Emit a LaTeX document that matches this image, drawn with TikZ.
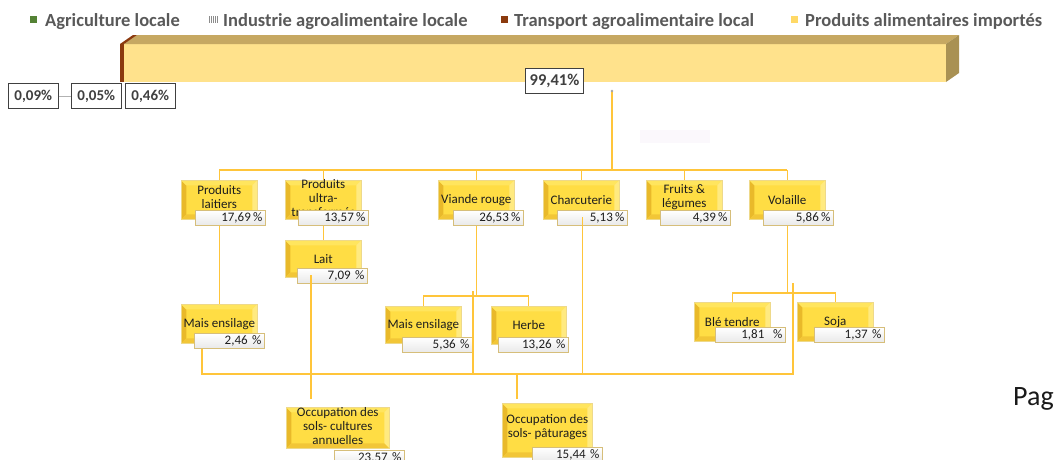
\documentclass[tikz,border=0pt]{standalone}
\usepackage{fontspec}
\setmainfont{Carlito}
\usetikzlibrary{calc}
\definecolor{connc}{HTML}{FFC53A}
\definecolor{boxin}{HTML}{FFDD44}
\definecolor{bevL}{HTML}{E9B92A}
\definecolor{bevT}{HTML}{FFE55E}
\definecolor{bevR}{HTML}{FFEA80}
\definecolor{bevB}{HTML}{F2C637}
\definecolor{boxedge}{HTML}{EED98A}
\definecolor{labedge}{HTML}{D6BE7A}
\definecolor{labbot}{HTML}{E9E9E9}
\definecolor{txtc}{HTML}{1E1E1E}
\definecolor{legtxt}{HTML}{595959}
\definecolor{valtxt}{HTML}{404040}
\definecolor{barfront}{HTML}{FFE28C}
\definecolor{bartop}{HTML}{C6A862}
\definecolor{barside}{HTML}{A99153}
\definecolor{barbrown}{HTML}{8B3A0E}
\definecolor{aggreen}{HTML}{548235}
\definecolor{legyellow}{HTML}{FFD966}
\definecolor{faintc}{HTML}{FBF8FC}
\newcommand\bxfont{\fontsize{13}{14}\selectfont}
\newcommand\lgfont{\bfseries\fontsize{18.5}{20}\selectfont}
\tikzset{
  conn/.style={draw=connc, line width=1.3pt},
  ybox/.style={anchor=north west, draw=boxedge, line width=0.6pt, fill=boxin,
    inner sep=0pt, align=center, font=\bxfont, text=txtc,
    minimum width=76pt, minimum height=39pt,
    path picture={
      \fill[bevL] (path picture bounding box.south west) -- (path picture bounding box.north west)
        -- ([shift={(5pt,-5pt)}]path picture bounding box.north west)
        -- ([shift={(5pt,5pt)}]path picture bounding box.south west) -- cycle;
      \fill[bevT] (path picture bounding box.north west) -- (path picture bounding box.north east)
        -- ([shift={(-5pt,-5pt)}]path picture bounding box.north east)
        -- ([shift={(5pt,-5pt)}]path picture bounding box.north west) -- cycle;
      \fill[bevR] (path picture bounding box.north east) -- (path picture bounding box.south east)
        -- ([shift={(-5pt,5pt)}]path picture bounding box.south east)
        -- ([shift={(-5pt,-5pt)}]path picture bounding box.north east) -- cycle;
      \fill[bevB] (path picture bounding box.south west) -- (path picture bounding box.south east)
        -- ([shift={(-5pt,5pt)}]path picture bounding box.south east)
        -- ([shift={(5pt,5pt)}]path picture bounding box.south west) -- cycle;
    }},
  bxtxt/.style={align=center, font=\bxfont, text=txtc, inner sep=0pt},
  lab/.style={anchor=north west, draw=labedge, line width=0.7pt, top color=white,
    bottom color=labbot, minimum height=15pt, text width=64pt, align=right,
    inner xsep=3pt, inner ysep=0pt, font=\bxfont, text=txtc},
  val/.style={anchor=north west, draw=valtxt, line width=1pt, fill=white,
    minimum width=49.5pt, minimum height=25pt, inner sep=0pt,
    font=\bfseries\fontsize{15}{15}\selectfont, text=valtxt},
  leg/.style={anchor=base west, inner sep=0pt, font=\lgfont, text=legtxt},
}
\begin{document}
\begin{tikzpicture}[x=1pt,y=-1pt]
\useasboundingbox (0,0) rectangle (1055,459);
\fill[white] (0,0) rectangle (1055,459);

% legend
\fill[aggreen] (30,16) rectangle (37,23);
\node[leg] (lg1) at (45,26) {Agriculture locale};
\foreach \xx in {209,211,213,215,217} \draw[gray!90, line width=0.9pt] (\xx,16) -- (\xx,23);
\node[leg] (lg2) at (223,26) {Industrie agroalimentaire locale};
\fill[barbrown] (501,16) rectangle (508,23);
\node[leg] (lg3) at (514,26) {Transport agroalimentaire local};
\fill[legyellow] (791,16) rectangle (798,23);
\node[leg] (lg4) at (805,26) {Produits alimentaires importés};

% 3D bar
\fill[barfront] (124,44) rectangle (946,82);
\fill[barbrown] (120,44) rectangle (124,82);
\fill[bartop] (124,44) -- (137,35) -- (959,35) -- (946,44) -- cycle;
\fill[barbrown] (120,44) -- (133,35) -- (137,35) -- (124,44) -- cycle;
\fill[barside] (946,44) -- (959,35) -- (959,73) -- (946,82) -- cycle;

% faint rectangle
\fill[faintc] (640,130) rectangle (710,143);

% value labels
\node[val] (v09) at (8,83) {0,09\%};
\node[val] (v05) at (71,83) {0,05\%};
\node[val] (v46) at (125,83) {0,46\%};
\node[val, font=\bfseries\fontsize{16.5}{16.5}\selectfont, minimum width=58pt] (v99) at (525,68) {99,41\%};
\draw[gray!60, line width=0.6pt] (v09.east) -- (v05.west);

% coordinates
\coordinate (dot) at (612,91);
\coordinate (busT) at (0,170);
\coordinate (subV) at (0,296);
\coordinate (subW) at (0,293);
\coordinate (busB) at (0,374);
\coordinate (jV) at (473,291);
\coordinate (jW) at (793,283);
\coordinate (jC) at (582.5,217);
\coordinate (jL) at (311,275);
\coordinate (jOA) at (311,399);
\coordinate (jOB) at (517,399);

% boxes
\path
  (181,180) node[ybox, label={[bxtxt, yshift=3pt]center:Produits\\laitiers}] (laitiers) {}
  (285,180) node[ybox, label={[bxtxt, yshift=2pt]center:Produits\\ultra-\\transformés}] (ultra) {}
  (438,180) node[ybox] (viande) {Viande rouge}
  (543,180) node[ybox] (charcut) {Charcuterie}
  (646,180) node[ybox, label={[bxtxt, yshift=3pt]center:Fruits \&\\légumes}] (fruits) {}
  (749,180) node[ybox] (volaille) {Volaille}
  (285,240) node[ybox, minimum height=37pt] (lait) {Lait}
  (181,304) node[ybox] (maisA) {Mais ensilage}
  (385,306) node[ybox, minimum height=37pt] (maisB) {Mais ensilage}
  (491,306) node[ybox, minimum width=75pt, minimum height=38pt] (herbe) {Herbe}
  (694,302) node[ybox] (ble) {Blé tendre}
  (797,302) node[ybox] (soja) {Soja}
  (286,407) node[ybox, minimum width=103pt, minimum height=41pt, label={[bxtxt, yshift=1.5pt]center:Occupation des\\sols- cultures\\annuelles}] (occA) {}
  (502,403) node[ybox, minimum width=90pt, minimum height=54pt, label={[bxtxt, yshift=3pt]center:Occupation des\\sols- pâturages}] (occB) {};

% percentage labels
\path
  (195,210) node[lab] (laitiersL) {17,69\,\%}
  (298,210) node[lab] (ultraL) {13,57\,\%}
  (453,210) node[lab] (viandeL) {26,53\,\%}
  (557,210) node[lab] (charcutL) {5,13\,\%}
  (660,210) node[lab] (fruitsL) {4,39\,\%}
  (763,210) node[lab] (volailleL) {5,86\,\%}
  (297,268) node[lab] (laitL) {7,09 \%}
  (194,333) node[lab] (maisAL) {2,46 \%}
  (402,337) node[lab] (maisBL) {5,36 \%}
  (498,337) node[lab] (herbeL) {13,26 \%}
  (715,327) node[lab] (bleL) {1,81~~\%}
  (814,327) node[lab] (sojaL) {1,37 \%}
  (334,450) node[lab] (occAL) {23,57 \%}
  (532,447) node[lab] (occBL) {15,44 \%};

\coordinate (jA) at ([xshift=8pt]maisAL.south west);

% connectors
\draw[conn] (dot) -- (dot |- busT);
\fill[gray!70] (dot) circle (1.3pt);
\draw[conn] (laitiers.north |- busT) -- (volaille.north |- busT);
\foreach \n in {laitiers,ultra,viande,charcut,fruits,volaille}
  \draw[conn] (\n.north |- busT) -- (\n.north);
\draw[conn] (laitiers.center |- laitiersL.south) -- (maisA.north);
\draw[conn] (ultra.center |- ultraL.south) -- (lait.north);
\draw[conn] (viande.center |- viandeL.south) -- (viande.center |- subV);
\draw[conn] (maisB.north) -- (maisB.north |- subV) -- (herbe.north |- subV) -- (herbe.north);
\draw[conn] (volaille.center |- volailleL.south) -- (volaille.center |- subW);
\draw[conn] (ble.north) -- (ble.north |- subW) -- (soja.north |- subW) -- (soja.north);
\draw[conn] (jA) -- (jA |- busB) -- (jW |- busB) -- (jW);
\draw[conn] (jV) -- (jV |- busB);
\draw[conn] (jOB |- busB) -- (jOB);
\draw[conn] (jC) -- (jC |- busB);
\draw[conn] (jL) -- (jOA);

% page text
\node[anchor=base west, inner sep=0pt, font=\fontsize{28}{28}\selectfont, text=black!90] (pag) at (1013,405) {Pag};
\end{tikzpicture}
\end{document}
